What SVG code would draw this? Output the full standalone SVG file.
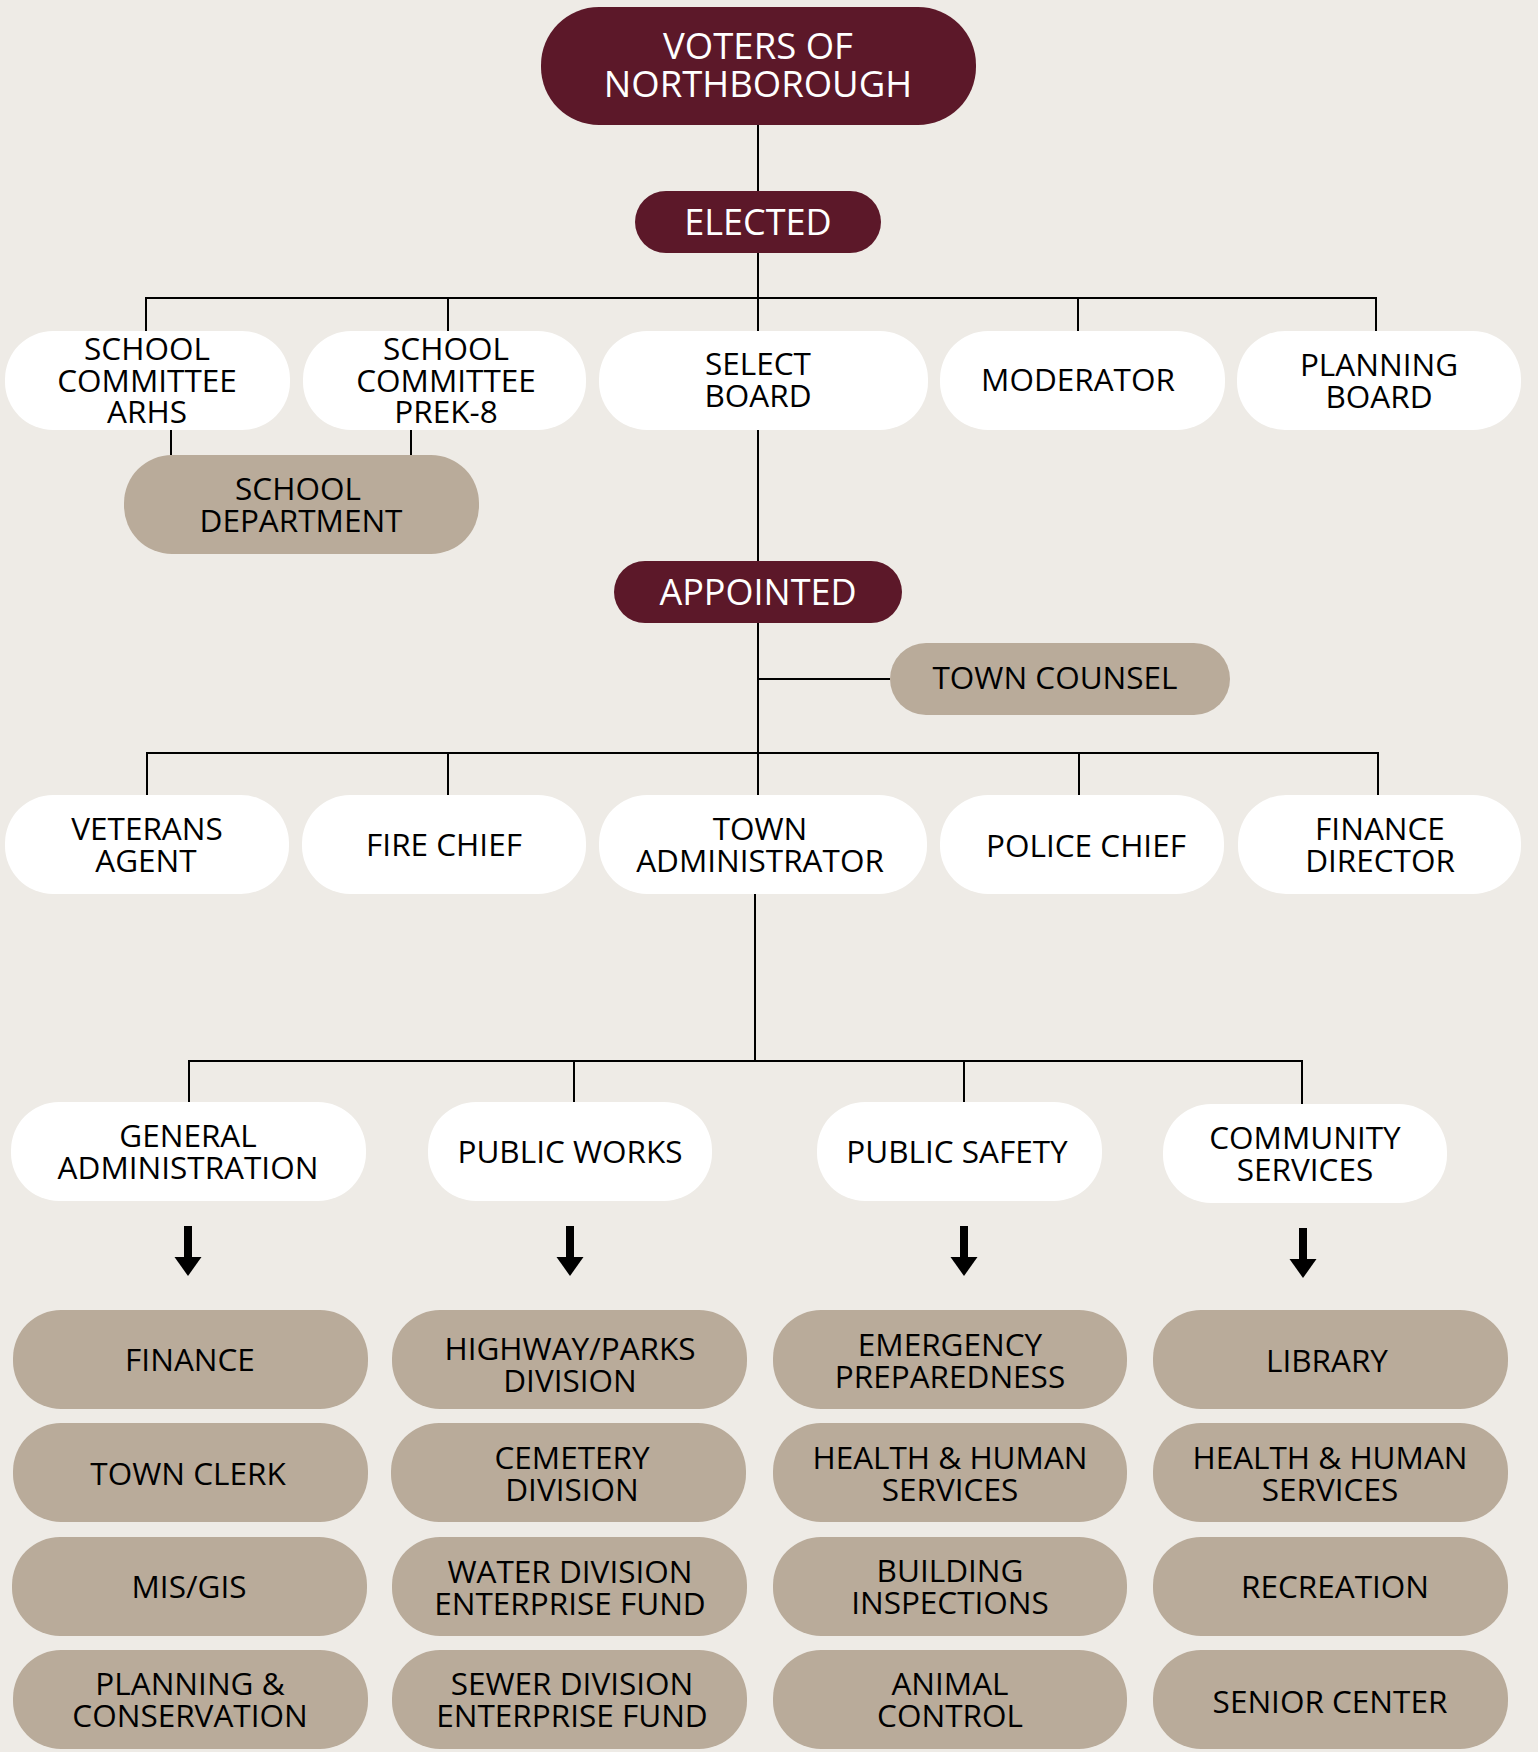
<svg xmlns="http://www.w3.org/2000/svg" width="1538" height="1752" viewBox="0 0 1538 1752">
<defs>
<style>
.bg{fill:#eeebe6}
.m{fill:#5c1829}
.w{fill:#ffffff}
.t{fill:#b9ab9a}
.tx{font-family:"Open Sans","Noto Sans","Liberation Sans",sans-serif;font-size:31.5px;fill:#000;text-anchor:middle}
.tw{font-family:"Open Sans","Noto Sans","Liberation Sans",sans-serif;fill:#fff;text-anchor:middle}
.ln{stroke:#000;stroke-width:2;fill:none}
.ar{stroke:#000;stroke-width:8;fill:none}
</style>
<marker id="ah" markerUnits="userSpaceOnUse" markerWidth="20" markerHeight="30" viewBox="0 -15 20 30" refX="0" refY="0" orient="auto">
<path d="M0,-13.5 L19,0 L0,13.5 z" fill="#000"/>
</marker>
</defs>
<rect class="bg" x="0" y="0" width="1538" height="1752"/>

<g id="connectors">
<path class="ln" d="M758,125 V191 M758,253 V331 M146,298 H1376 M146,297 V331 M448,298 V331 M1078,298 V331 M1376,297 V331"/>
<path class="ln" d="M171,430 V455 M411,430 V455"/>
<path class="ln" d="M758,430 V561 M758,623 V795 M758,679 H890"/>
<path class="ln" d="M147,753 H1378 M147,752 V795 M448,753 V795 M1079,753 V795 M1378,752 V795"/>
<path class="ln" d="M755,894 V1061 M189,1061 H1302 M189,1060 V1102 M574,1061 V1102 M964,1061 V1102 M1302,1060 V1104"/>
<line class="ar" x1="188" y1="1226" x2="188" y2="1257" marker-end="url(#ah)"/>
<line class="ar" x1="570" y1="1226" x2="570" y2="1257" marker-end="url(#ah)"/>
<line class="ar" x1="964" y1="1226" x2="964" y2="1257" marker-end="url(#ah)"/>
<line class="ar" x1="1303" y1="1228" x2="1303" y2="1259" marker-end="url(#ah)"/>
</g>

<g id="voters"><rect class="m" x="541" y="7" width="435" height="118" rx="58"/>
<text class="tw" font-size="36.5" x="758" y="59">VOTERS OF</text><text class="tw" font-size="36.5" x="758" y="97">NORTHBOROUGH</text></g>
<g id="elected"><rect class="m" x="635" y="191" width="246" height="62" rx="31"/>
<text class="tw" font-size="36" x="758" y="235">ELECTED</text></g>

<g id="school-arhs"><rect class="w" x="5" y="331" width="285" height="99" rx="48"/>
<text class="tx" x="147" y="360">SCHOOL</text><text class="tx" x="147" y="392">COMMITTEE</text><text class="tx" x="147" y="423">ARHS</text></g>
<g id="school-prek"><rect class="w" x="303" y="331" width="283" height="99" rx="48"/>
<text class="tx" x="446" y="360">SCHOOL</text><text class="tx" x="446" y="392">COMMITTEE</text><text class="tx" x="446" y="423">PREK-8</text></g>
<g id="select-board"><rect class="w" x="599" y="331" width="329" height="99" rx="48"/>
<text class="tx" x="758" y="375">SELECT</text><text class="tx" x="758" y="407">BOARD</text></g>
<g id="moderator"><rect class="w" x="940" y="331" width="285" height="99" rx="48"/>
<text class="tx" x="1078" y="391">MODERATOR</text></g>
<g id="planning-board"><rect class="w" x="1237" y="331" width="284" height="99" rx="48"/>
<text class="tx" x="1379" y="376">PLANNING</text><text class="tx" x="1379" y="408">BOARD</text></g>

<g id="school-department"><rect class="t" x="124" y="455" width="355" height="99" rx="48"/>
<text class="tx" x="298" y="500">SCHOOL</text><text class="tx" x="301" y="532">DEPARTMENT</text></g>

<g id="appointed"><rect class="m" x="614" y="561" width="288" height="62" rx="31"/>
<text class="tw" font-size="36" x="758" y="605">APPOINTED</text></g>
<g id="town-counsel"><rect class="t" x="890" y="643" width="340" height="72" rx="36"/>
<text class="tx" x="1055" y="689">TOWN COUNSEL</text></g>

<g id="veterans-agent"><rect class="w" x="5" y="795" width="284" height="99" rx="48"/>
<text class="tx" x="147" y="840">VETERANS</text><text class="tx" x="146" y="872">AGENT</text></g>
<g id="fire-chief"><rect class="w" x="302" y="795" width="284" height="99" rx="48"/>
<text class="tx" x="444" y="856">FIRE CHIEF</text></g>
<g id="town-administrator"><rect class="w" x="599" y="795" width="328" height="99" rx="48"/>
<text class="tx" x="760" y="840">TOWN</text><text class="tx" x="760" y="872">ADMINISTRATOR</text></g>
<g id="police-chief"><rect class="w" x="940" y="795" width="284" height="99" rx="48"/>
<text class="tx" x="1086" y="857">POLICE CHIEF</text></g>
<g id="finance-director"><rect class="w" x="1238" y="795" width="283" height="99" rx="48"/>
<text class="tx" x="1380" y="840">FINANCE</text><text class="tx" x="1380" y="872">DIRECTOR</text></g>

<g id="general-administration"><rect class="w" x="11" y="1102" width="355" height="99" rx="48"/>
<text class="tx" x="188" y="1147">GENERAL</text><text class="tx" x="188" y="1179">ADMINISTRATION</text></g>
<g id="public-works"><rect class="w" x="428" y="1102" width="284" height="99" rx="48"/>
<text class="tx" x="570" y="1163">PUBLIC WORKS</text></g>
<g id="public-safety"><rect class="w" x="817" y="1102" width="285" height="99" rx="48"/>
<text class="tx" x="957" y="1163">PUBLIC SAFETY</text></g>
<g id="community-services"><rect class="w" x="1163" y="1104" width="284" height="99" rx="48"/>
<text class="tx" x="1305" y="1149">COMMUNITY</text><text class="tx" x="1305" y="1181">SERVICES</text></g>

<g id="finance"><rect class="t" x="13" y="1310" width="355" height="99" rx="48"/>
<text class="tx" x="190" y="1371">FINANCE</text></g>
<g id="highway-parks"><rect class="t" x="392" y="1310" width="355" height="99" rx="48"/>
<text class="tx" x="570" y="1360">HIGHWAY/PARKS</text><text class="tx" x="570" y="1392">DIVISION</text></g>
<g id="emergency-preparedness"><rect class="t" x="773" y="1310" width="354" height="99" rx="48"/>
<text class="tx" x="950" y="1356">EMERGENCY</text><text class="tx" x="950" y="1388">PREPAREDNESS</text></g>
<g id="library"><rect class="t" x="1153" y="1310" width="355" height="99" rx="48"/>
<text class="tx" x="1327" y="1372">LIBRARY</text></g>

<g id="town-clerk"><rect class="t" x="13" y="1423" width="355" height="99" rx="48"/>
<text class="tx" x="188" y="1485">TOWN CLERK</text></g>
<g id="cemetery-division"><rect class="t" x="391" y="1423" width="355" height="99" rx="48"/>
<text class="tx" x="572" y="1469">CEMETERY</text><text class="tx" x="572" y="1501">DIVISION</text></g>
<g id="health-human-services-1"><rect class="t" x="773" y="1423" width="354" height="99" rx="48"/>
<text class="tx" x="950" y="1469">HEALTH &amp; HUMAN</text><text class="tx" x="950" y="1501">SERVICES</text></g>
<g id="health-human-services-2"><rect class="t" x="1153" y="1423" width="355" height="99" rx="48"/>
<text class="tx" x="1330" y="1469">HEALTH &amp; HUMAN</text><text class="tx" x="1330" y="1501">SERVICES</text></g>

<g id="mis-gis"><rect class="t" x="12" y="1537" width="355" height="99" rx="48"/>
<text class="tx" x="189" y="1598">MIS/GIS</text></g>
<g id="water-division"><rect class="t" x="392" y="1537" width="355" height="99" rx="48"/>
<text class="tx" x="570" y="1583">WATER DIVISION</text><text class="tx" x="570" y="1615">ENTERPRISE FUND</text></g>
<g id="building-inspections"><rect class="t" x="773" y="1537" width="354" height="99" rx="48"/>
<text class="tx" x="950" y="1582">BUILDING</text><text class="tx" x="950" y="1614">INSPECTIONS</text></g>
<g id="recreation"><rect class="t" x="1153" y="1537" width="355" height="99" rx="48"/>
<text class="tx" x="1335" y="1598">RECREATION</text></g>

<g id="planning-conservation"><rect class="t" x="13" y="1650" width="355" height="99" rx="48"/>
<text class="tx" x="190" y="1695">PLANNING &amp;</text><text class="tx" x="190" y="1727">CONSERVATION</text></g>
<g id="sewer-division"><rect class="t" x="392" y="1650" width="355" height="99" rx="48"/>
<text class="tx" x="572" y="1695">SEWER DIVISION</text><text class="tx" x="572" y="1727">ENTERPRISE FUND</text></g>
<g id="animal-control"><rect class="t" x="773" y="1650" width="354" height="99" rx="48"/>
<text class="tx" x="950" y="1695">ANIMAL</text><text class="tx" x="950" y="1727">CONTROL</text></g>
<g id="senior-center"><rect class="t" x="1153" y="1650" width="355" height="99" rx="48"/>
<text class="tx" x="1330" y="1713">SENIOR CENTER</text></g>
</svg>
